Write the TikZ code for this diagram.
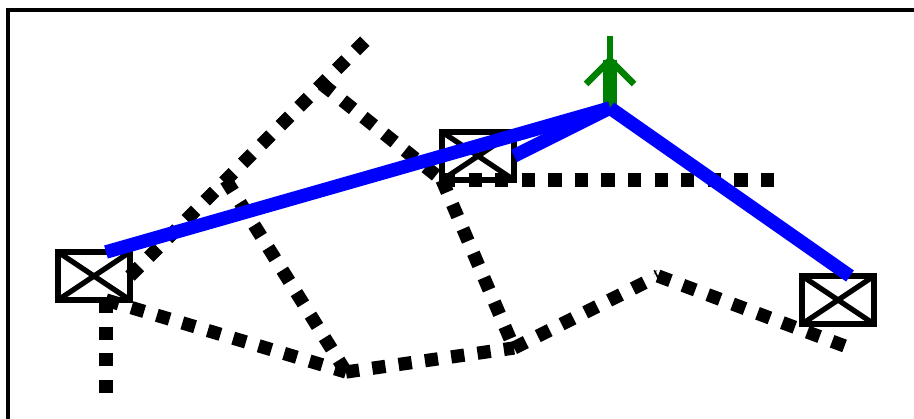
\documentclass[tikz,border=0pt]{standalone}
\usepackage{tikz}
\usepackage{xcolor}
\usetikzlibrary{arrows,positioning}

\begin{document}
\begin{tikzpicture}[
    x=0.02cm,
    y=-0.02cm,
    switchbox/.style={
        rectangle,
        draw=black,
        line width=3.7pt,
        minimum width=1.44cm,
        minimum height=0.96cm,
        inner sep=0pt,
        path picture={
            \draw[line width=3pt] (path picture bounding box.north west) -- (path picture bounding box.south east);
            \draw[line width=3pt] (path picture bounding box.south west) -- (path picture bounding box.north east);
        }
    },
    dotline/.style={
        line width=7.56pt,
        dash pattern=on 7.56pt off 7.56pt,
        black
    },
    bluepath/.style={
        line width=7.7pt,
        blue
    },
    greenstem/.style={
        line width=3.8pt,
        green!50!black
    },
    every node/.style={
        font=\small
    }
]

\useasboundingbox (0,0) rectangle (914,419);

% Frame
\coordinate (frametl) at (8,10);
\coordinate (frametr) at (930,10);
\coordinate (framebl) at (8,430);
\draw[line width=2.6pt] (framebl) -- (frametl) -- (frametr);

% Tiny mark near the peak
\node[font=\fontsize{3.5}{4}\selectfont, inner sep=0pt] (peaklabel) at (655.5,273) {y};

% Boxes
\node[switchbox] (leftbox) at (94,276) {};
\node[switchbox] (midbox) at (478,156) {};
\node[switchbox] (rightbox) at (838,300) {};

% Junctions
\coordinate (legstart) at (106,300);
\coordinate (legend) at (106,396);
\coordinate (low) at (346,372);
\coordinate (lowright) at (514,348);
\coordinate (peak) at (658,276);
\coordinate (tail) at (850,348);
\coordinate (hub) at (442,180);
\coordinate (hubend) at (778,180);
\coordinate (apex) at (322,84);
\coordinate (diagstart) at (130,276);
\coordinate (diagend) at (370,36);
\coordinate (branch) at (226,180);
\coordinate (bluestart) at (106,252);
\coordinate (bluetop) at (610,108);
\coordinate (blueend) at (850,276);
\coordinate (bluemid) at (514,156);

% Dotted links
\draw[dotline] (legstart) -- (legend);
\draw[dotline] (legstart) -- (low);
\draw[dotline] (low) -- (lowright);
\draw[dotline] (lowright) -- (peak);
\draw[dotline] (peak) -- (tail);
\draw[dotline] (branch) -- (low);
\draw[dotline] (diagstart) -- (diagend);
\draw[dotline] (apex) -- (hub);
\draw[dotline] (hub) -- (lowright);
\draw[dotline] (hub) -- (hubend);

% Green arrow
\coordinate (arrowtop) at (610,36);
\coordinate (arrowneck) at (610,60);
\coordinate (wingleft) at (586,84);
\coordinate (wingright) at (634,84);
\draw[greenstem] (arrowtop) -- (arrowneck);
\draw[greenstem, line width=7.56pt] (arrowneck) -- (bluetop);
\draw[greenstem] (wingleft) -- (arrowneck);
\draw[greenstem] (wingright) -- (arrowneck);

% Blue route
\draw[bluepath] (bluestart) -- (bluetop);
\draw[bluepath] (bluetop) -- (blueend);
\draw[bluepath] (bluemid) -- (bluetop);

\end{tikzpicture}
\end{document}
